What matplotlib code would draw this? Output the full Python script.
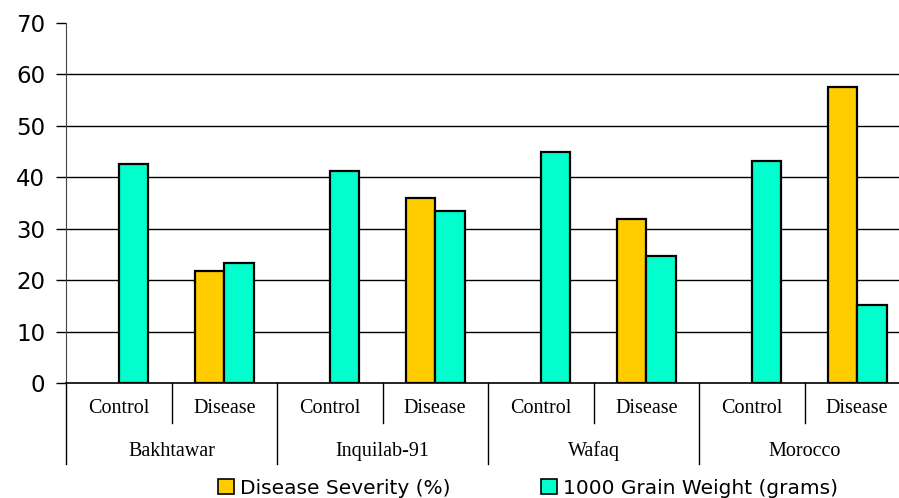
import numpy as np
import matplotlib
matplotlib.use("Agg")
import matplotlib.pyplot as plt
from matplotlib.patches import Patch

# data
varieties = ["Bakhtawar", "Inquilab-91", "Wafaq", "Morocco"]
treatments = ["Control", "Disease"]
disease_severity = [0, 21.7, 0, 36.0, 0, 31.8, 0, 57.6]
grain_weight = [42.6, 23.3, 41.2, 33.4, 44.9, 24.6, 43.2, 15.2]

gold = "#FFCC00"
teal = "#00FFCC"

fig = plt.figure(figsize=(8.99, 4.98), dpi=100)
# axes runs a little past the right edge, like the original crop
ax = fig.add_axes([66 / 899, 115 / 498, 844 / 899, 360 / 498])

x = np.arange(len(grain_weight))
w = 0.28
ds = np.array(disease_severity)
gw = np.array(grain_weight)
show = ds > 0
ax.bar(x[show] - w / 2, ds[show], w, color=gold, edgecolor="black", linewidth=1.6, zorder=3)
ax.bar(x + w / 2, gw, w, color=teal, edgecolor="black", linewidth=1.6, zorder=3)

ax.set_xlim(-0.5, 7.5)
ax.set_ylim(0, 70)
ax.set_yticks(range(0, 71, 10))
ax.tick_params(axis="y", length=7, width=1, pad=8, labelsize=16.5, colors="black")
ax.set_xticks([])
for t in ax.get_yticklabels():
    t.set_family("DejaVu Sans")

for yv in range(10, 70, 10):
    ax.axhline(yv, color="black", linewidth=1, zorder=1)

ax.spines["top"].set_visible(False)
ax.spines["right"].set_visible(False)
ax.spines["left"].set_color("#444444")
ax.spines["bottom"].set_linewidth(1.2)

# two level category axis
tr = ax.get_xaxis_transform()
for i in range(len(grain_weight)):
    ax.text(i, -0.072, treatments[i % 2], transform=tr, ha="center", va="center",
            family="Liberation Serif", fontsize=14.5)
for b in np.arange(-0.5, 8, 1):
    y_end = -0.225 if (b + 0.5) % 2 == 0 else -0.111
    ax.plot([b, b], [0, y_end], transform=tr, color="black", linewidth=1, clip_on=False)
for g, name in enumerate(varieties):
    ax.text(2 * g + 0.5, -0.189, name, transform=tr, ha="center", va="center",
            family="Liberation Serif", fontsize=14.5)

handles = [Patch(facecolor=gold, edgecolor="black", linewidth=1.2, label="Disease Severity (%)"),
           Patch(facecolor=teal, edgecolor="black", linewidth=1.2, label="1000 Grain Weight (grams)")]
fig.legend(handles=handles, loc="center", bbox_to_anchor=(528 / 899, 10 / 498), ncol=2,
           frameon=False, fontsize=14.5, handlelength=0.8, handleheight=0.8,
           handletextpad=0.3, columnspacing=4.5, borderaxespad=0)

fig.savefig("out.png", dpi=100)
